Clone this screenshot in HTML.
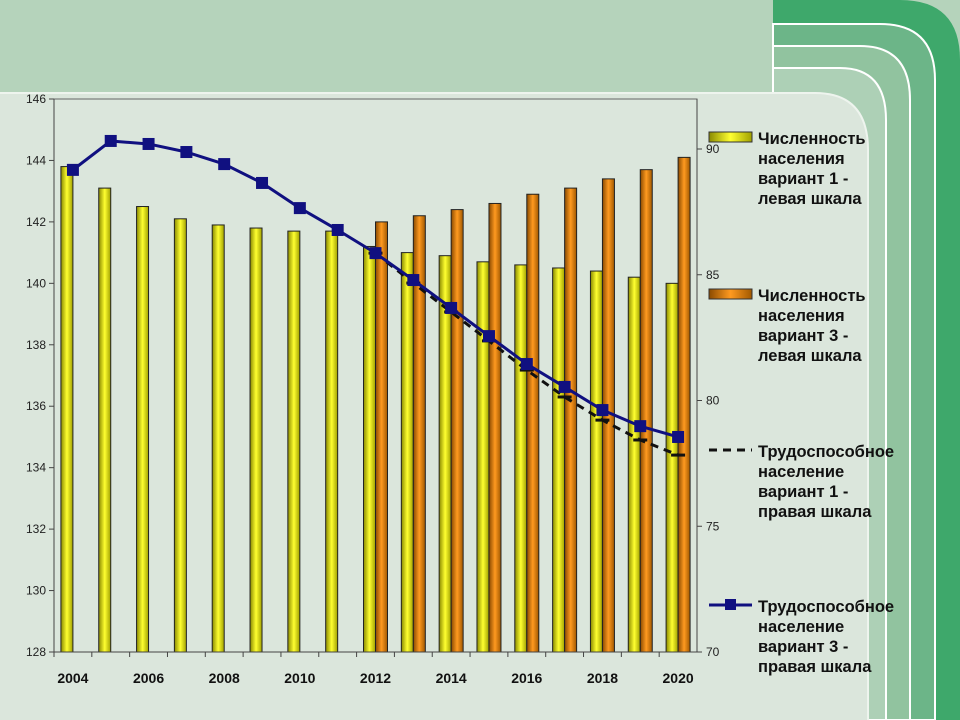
<!DOCTYPE html>
<html><head><meta charset="utf-8"><style>
body{margin:0;width:960px;height:720px;overflow:hidden;font-family:"Liberation Sans",sans-serif;}
svg{display:block}
</style></head><body>
<svg width="960" height="720">
<defs>
<linearGradient id="gy" x1="0" x2="1"><stop offset="0" stop-color="#8a8a00"/><stop offset="0.5" stop-color="#ffff30"/><stop offset="1" stop-color="#a0a000"/></linearGradient>
<linearGradient id="go" x1="0" x2="1"><stop offset="0" stop-color="#8a4a00"/><stop offset="0.5" stop-color="#ff9a20"/><stop offset="1" stop-color="#a05800"/></linearGradient>
</defs>
<g>
<rect x="0" y="0" width="960" height="720" fill="#b5d3bb"/>
<path d="M773 0 H900 Q960 0 960 60 V720 H773 Z" fill="#3ea86b"/>
<path d="M773 24 H880 Q935 24 935 80 V720 H773 Z" fill="#6cb588" stroke="#fff" stroke-width="2"/>
<path d="M773 46 H860 Q910 46 910 100 V720 H773 Z" fill="#91c39f" stroke="#fff" stroke-width="2"/>
<path d="M773 68 H840 Q886 68 886 120 V720 H773 Z" fill="#add0b6" stroke="#fff" stroke-width="2"/>
<path d="M-5 93 H815 Q868 93 868 150 V725 H-5 Z" fill="#dbe6dc" stroke="#eef4ee" stroke-width="2"/>
</g>
<g id="plot"></g>
<g font-weight="bold" font-size="16.5" fill="#111">
<rect x="709" y="132" width="43" height="10" fill="url(#gy)" stroke="#333"/>
<text x="758" y="144"><tspan x="758">Численность</tspan><tspan x="758" dy="20">населения</tspan><tspan x="758" dy="20">вариант 1 -</tspan><tspan x="758" dy="20">левая шкала</tspan></text>
<rect x="709" y="289" width="43" height="10" fill="url(#go)" stroke="#333"/>
<text x="758" y="301"><tspan x="758">Численность</tspan><tspan x="758" dy="20">населения</tspan><tspan x="758" dy="20">вариант 3 -</tspan><tspan x="758" dy="20">левая шкала</tspan></text>
<line x1="709" y1="450" x2="752" y2="450" stroke="#111" stroke-width="3" stroke-dasharray="8,6"/>
<text x="758" y="457"><tspan x="758">Трудоспособное</tspan><tspan x="758" dy="20">население</tspan><tspan x="758" dy="20">вариант 1 -</tspan><tspan x="758" dy="20">правая шкала</tspan></text>
<line x1="709" y1="605" x2="752" y2="605" stroke="#101080" stroke-width="3"/>
<rect x="725" y="599" width="11" height="11" fill="#101080"/>
<text x="758" y="612"><tspan x="758">Трудоспособное</tspan><tspan x="758" dy="20">население</tspan><tspan x="758" dy="20">вариант 3 -</tspan><tspan x="758" dy="20">правая шкала</tspan></text>
</g>
</svg>
<script>
const years=[2004,2005,2006,2007,2008,2009,2010,2011,2012,2013,2014,2015,2016,2017,2018,2019,2020];
const popV1=[143.8,143.1,142.5,142.1,141.9,141.8,141.7,141.7,141.2,141.0,140.9,140.7,140.6,140.5,140.4,140.2,140.0];
const popV3=[null,null,null,null,null,null,null,null,142.0,142.2,142.4,142.6,142.9,143.1,143.4,143.7,144.1];
const workV1=[null,null,null,null,null,null,null,null,85.86,84.67,83.52,82.37,81.21,80.14,79.22,78.43,77.83];
const workV3=[89.17,90.32,90.2,89.88,89.4,88.65,87.65,86.78,85.86,84.79,83.68,82.56,81.45,80.54,79.62,78.98,78.55];
const leftTicks=[128,130,132,134,136,138,140,142,144,146];
const rightTicks=[70,75,80,85,90];
const xLabels=[2004,2006,2008,2010,2012,2014,2016,2018,2020];

const NS="http://www.w3.org/2000/svg";
const g=document.getElementById('plot');
const X0=54,X1=697,YT=99,YB=652;
const bw=(X1-X0)/years.length;
const xc=i=>X0+bw*(i+0.5);
const yL=v=>YB-(v-128)/(146-128)*(YB-YT);
const yR=v=>YB-(v-70)/(90-70)*(YB-149);
function mk(t,a){const e=document.createElementNS(NS,t);for(const k in a)e.setAttribute(k,a[k]);g.appendChild(e);return e;}

let e=mk('rect',{x:X0,y:YT,width:X1-X0,height:YB-YT,fill:'none',stroke:'#666','stroke-width':1});



popV1.forEach((v,i)=>{const b=mk('rect',{x:xc(i)-12,y:yL(v),width:12,height:YB-yL(v),fill:'url(#gy)',stroke:'#222','stroke-width':1});

});
popV3.forEach((v,i)=>{if(v==null)return;const b=mk('rect',{x:xc(i),y:yL(v),width:12,height:YB-yL(v),fill:'url(#go)',stroke:'#222','stroke-width':1});

});

e=mk('line',{x1:X0,y1:YT,x2:X0,y2:YB,stroke:'#444'});


e=mk('line',{x1:X1,y1:YT,x2:X1,y2:YB,stroke:'#444'});


e=mk('line',{x1:X0,y1:YB,x2:X1,y2:YB,stroke:'#444'});


leftTicks.forEach(v=>{mk('line',{x1:X0-5,y1:yL(v),x2:X0,y2:yL(v),stroke:'#444'});
const t=mk('text',{x:X0-8,y:yL(v)+4,'text-anchor':'end','font-size':12,fill:'#222'});t.textContent=v;

});
rightTicks.forEach(v=>{mk('line',{x1:X1,y1:yR(v),x2:X1+5,y2:yR(v),stroke:'#444'});
const t=mk('text',{x:X1+9,y:yR(v)+4,'font-size':12,fill:'#222'});t.textContent=v;

});
years.forEach((y,i)=>{mk('line',{x1:X0+bw*i,y1:YB,x2:X0+bw*i,y2:YB+5,stroke:'#444'});});
xLabels.forEach(y=>{const i=years.indexOf(y);const t=mk('text',{x:xc(i),y:YB+31,'text-anchor':'middle','font-size':14,'font-weight':'bold',fill:'#111'});t.textContent=y;

});

let pts=[];workV1.forEach((v,i)=>{if(v!=null)pts.push(xc(i)+','+yR(v));});
e=mk('polyline',{points:pts.join(' '),fill:'none',stroke:'#111','stroke-width':3,'stroke-dasharray':'8,6'});


workV1.forEach((v,i)=>{if(v==null)return;const m=mk('line',{x1:xc(i)-7,y1:yR(v),x2:xc(i)+7,y2:yR(v),stroke:'#111','stroke-width':3});

});
pts=workV3.map((v,i)=>xc(i)+','+yR(v));
e=mk('polyline',{points:pts.join(' '),fill:'none',stroke:'#101080','stroke-width':3,'stroke-linejoin':'round'});


workV3.forEach((v,i)=>{const m=mk('rect',{x:xc(i)-6,y:yR(v)-6,width:12,height:12,fill:'#101080'});

});
</script>
</body></html>
